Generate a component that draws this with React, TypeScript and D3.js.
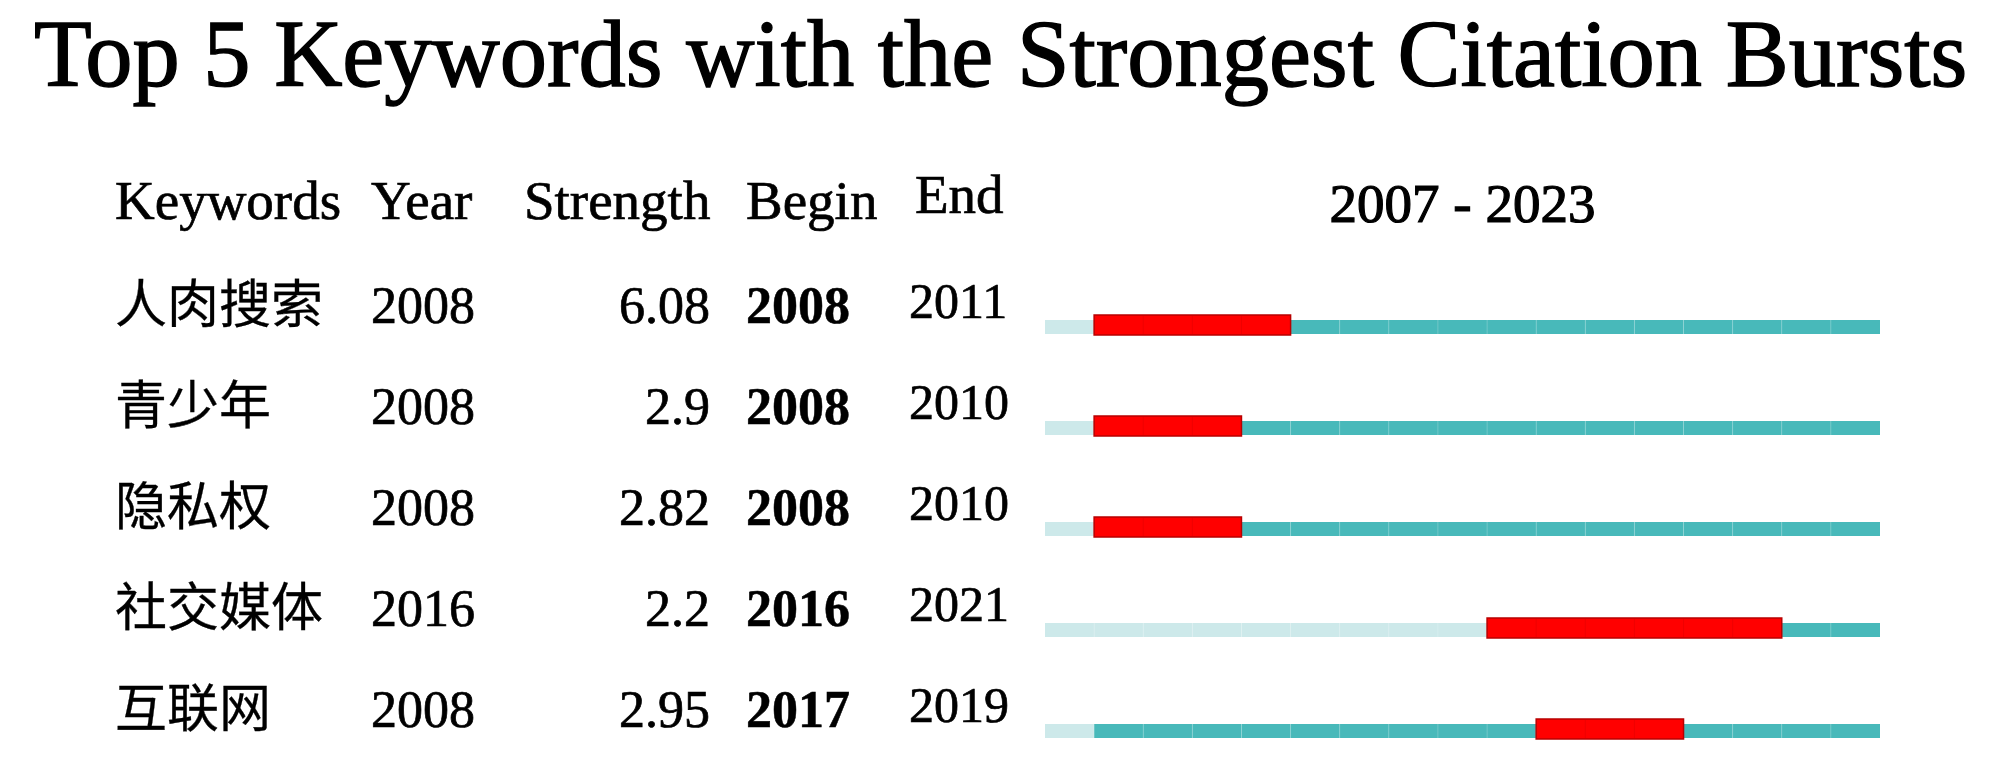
import React, { useEffect, useRef } from "react";
import * as d3 from "d3";

// keyword burst data
const keywords = ["人肉搜索", "青少年", "隐私权", "社交媒体", "互联网"];
const years = [2008, 2008, 2008, 2016, 2008];
const strengths = ["6.08", "2.9", "2.82", "2.2", "2.95"];
const begins = [2008, 2008, 2008, 2016, 2017];
const ends = [2011, 2010, 2010, 2021, 2019];
const headers = ["Keywords", "Year", "Strength", "Begin", "End"];
const firstYear = 2007;
const lastYear = 2023;

const SERIF = "'Liberation Serif', 'Times New Roman', 'Noto Sans CJK SC', serif";

const App = () => {
  const svgRef = useRef<SVGSVGElement>(null);

  useEffect(() => {
    const width = 2000;
    const height = 763;

    const svg = d3.select(svgRef.current);
    svg.selectAll("*").remove();
    svg.attr("width", width).attr("height", height);

    svg.append("rect").attr("width", width).attr("height", height).attr("fill", "#fff");

    // scales
    const x = d3.scaleLinear().domain([firstYear, lastYear + 1]).range([1045, 1880]);
    const y = d3.scaleLinear().domain([0, keywords.length - 1]).range([327, 731]);
    const allYears = d3.range(firstYear, lastYear + 1);

    // helper for the slightly heavy text look of the original
    const txt = (g, xx, yy, s, size, opts: any = {}) =>
      g.append("text")
        .attr("x", xx)
        .attr("y", yy)
        .attr("text-anchor", opts.anchor || "start")
        .style("font-family", opts.family || SERIF)
        .style("font-size", size + "px")
        .style("font-weight", opts.bold ? "bold" : "normal")
        .attr("fill", "#000")
        .attr("stroke", "#000")
        .attr("stroke-width", opts.sw ?? 0.7)
        .text(s);

    // title
    txt(svg, 34, 86, "Top 5 Keywords with the Strongest Citation Bursts", 94.5, { sw: 1.4 });

    // column headers
    const headerX = [115, 371, 524, 746, 915];
    headers.forEach((h, i) => {
      txt(svg, headerX[i], i === 4 ? 213 : 219, h, 55);
    });

    txt(svg, (x(firstYear) + x(lastYear + 1)) / 2, 222, `${firstYear} - ${lastYear}`, 55, {
      anchor: "middle",
      sw: 1.2,
    });

    const rows = svg.append("g");

    keywords.forEach((k, i) => {
      const cy = y(i);
      const base = cy - 4;
      const row = rows.append("g");

      txt(row, 115, base, k, 52, { family: "'Noto Sans CJK SC', sans-serif", sw: 0.3 });
      txt(row, 371, base, years[i], 52);
      txt(row, 710, base, strengths[i], 52, { anchor: "end" });
      txt(row, 746, base, begins[i], 52, { bold: true, sw: 0.5 });
      txt(row, 909, cy - 9, ends[i], 50);

      // timeline cells
      row.selectAll("rect.cell")
        .data(allYears)
        .join("rect")
        .attr("class", "cell")
        .attr("x", d => x(d))
        .attr("width", d => x(d + 1) - x(d))
        .attr("y", cy - 7)
        .attr("height", 14)
        .attr("fill", d => (d < years[i] ? "#cde9ea" : "#48b9ba"));

      // faint separators between years
      row.selectAll("line.sep")
        .data(allYears.slice(1))
        .join("line")
        .attr("class", "sep")
        .attr("x1", d => x(d)).attr("x2", d => x(d))
        .attr("y1", cy - 7).attr("y2", cy + 7)
        .attr("stroke", "#fff")
        .attr("stroke-opacity", 0.18)
        .attr("stroke-width", 1);

      // burst
      row.append("rect")
        .attr("x", x(begins[i]))
        .attr("width", x(ends[i] + 1) - x(begins[i]))
        .attr("y", cy - 12)
        .attr("height", 20)
        .attr("fill", "#ff0000")
        .attr("stroke", "#b80000")
        .attr("stroke-width", 1.5);

      row.selectAll("line.bsep")
        .data(d3.range(begins[i] + 1, ends[i] + 1))
        .join("line")
        .attr("class", "bsep")
        .attr("x1", d => x(d)).attr("x2", d => x(d))
        .attr("y1", cy - 11).attr("y2", cy + 7)
        .attr("stroke", "#c00000")
        .attr("stroke-opacity", 0.25);
    });
  }, []);

  return (
    <svg ref={svgRef} style={{ position: "absolute", left: 0, top: 0, display: "block" }}></svg>
  );
};

export default App;
